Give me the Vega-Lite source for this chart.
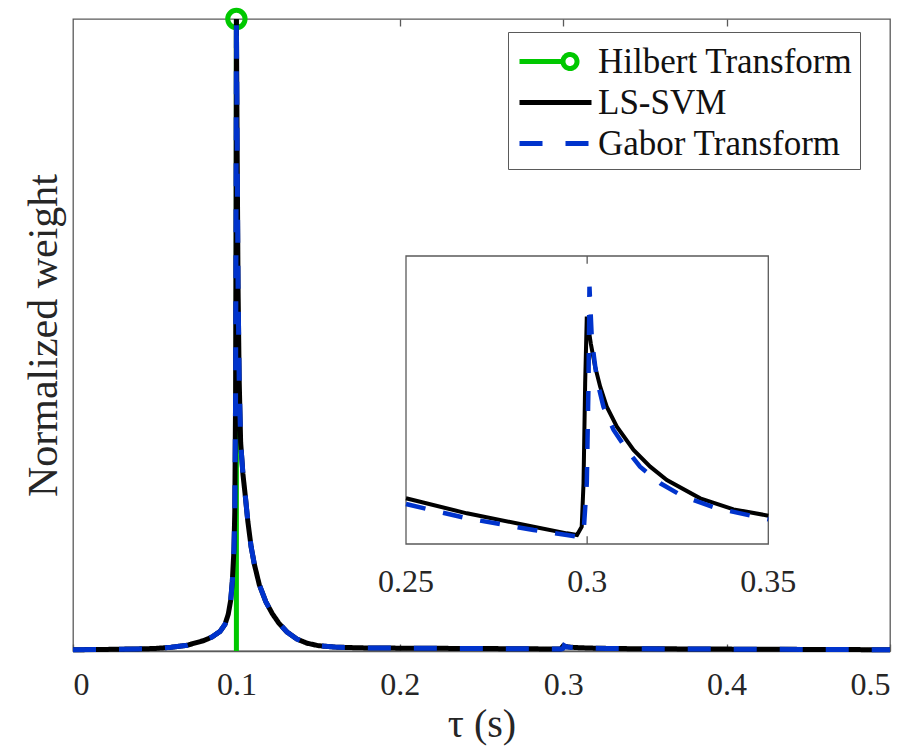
{
  "$schema": "https://vega.github.io/schema/vega-lite/v6.json",
  "width": 817,
  "height": 632,
  "autosize": {"type": "none"},
  "padding": {"left": 73, "top": 19, "right": 33, "bottom": 99},
  "background": "white",
  "config": {
    "view": {"stroke": "#5a5a5a", "strokeWidth": 1.3},
    "font": "serif",
    "axis": {"labelFont": "serif", "titleFont": "serif", "labelColor": "#262626", "titleColor": "#262626", "grid": false, "domainColor": "#5a5a5a", "tickColor": "#5a5a5a", "titleFontWeight": "normal", "domainWidth": 1.3, "tickWidth": 1.3}
  },
  "datasets": {
    "curves": [
      {"x": 0, "w": 0.002, "series": "LS-SVM"},
      {"x": 0.02, "w": 0.0025, "series": "LS-SVM"},
      {"x": 0.04, "w": 0.0033, "series": "LS-SVM"},
      {"x": 0.05, "w": 0.004, "series": "LS-SVM"},
      {"x": 0.06, "w": 0.0058, "series": "LS-SVM"},
      {"x": 0.07, "w": 0.0092, "series": "LS-SVM"},
      {"x": 0.08, "w": 0.0165, "series": "LS-SVM"},
      {"x": 0.085, "w": 0.022, "series": "LS-SVM"},
      {"x": 0.09, "w": 0.031, "series": "LS-SVM"},
      {"x": 0.093, "w": 0.042, "series": "LS-SVM"},
      {"x": 0.095, "w": 0.058, "series": "LS-SVM"},
      {"x": 0.0965, "w": 0.08, "series": "LS-SVM"},
      {"x": 0.0975, "w": 0.11, "series": "LS-SVM"},
      {"x": 0.0985, "w": 0.16, "series": "LS-SVM"},
      {"x": 0.099, "w": 0.22, "series": "LS-SVM"},
      {"x": 0.0995, "w": 0.4, "series": "LS-SVM"},
      {"x": 0.0998, "w": 0.7, "series": "LS-SVM"},
      {"x": 0.1, "w": 1.0, "series": "LS-SVM"},
      {"x": 0.1005, "w": 0.78, "series": "LS-SVM"},
      {"x": 0.101, "w": 0.58, "series": "LS-SVM"},
      {"x": 0.1017, "w": 0.43, "series": "LS-SVM"},
      {"x": 0.1026, "w": 0.33, "series": "LS-SVM"},
      {"x": 0.104, "w": 0.28, "series": "LS-SVM"},
      {"x": 0.1055, "w": 0.244, "series": "LS-SVM"},
      {"x": 0.107, "w": 0.205, "series": "LS-SVM"},
      {"x": 0.109, "w": 0.165, "series": "LS-SVM"},
      {"x": 0.111, "w": 0.137, "series": "LS-SVM"},
      {"x": 0.114, "w": 0.105, "series": "LS-SVM"},
      {"x": 0.118, "w": 0.078, "series": "LS-SVM"},
      {"x": 0.122, "w": 0.059, "series": "LS-SVM"},
      {"x": 0.126, "w": 0.044, "series": "LS-SVM"},
      {"x": 0.131, "w": 0.03, "series": "LS-SVM"},
      {"x": 0.137, "w": 0.019, "series": "LS-SVM"},
      {"x": 0.143, "w": 0.0125, "series": "LS-SVM"},
      {"x": 0.15, "w": 0.0085, "series": "LS-SVM"},
      {"x": 0.16, "w": 0.0062, "series": "LS-SVM"},
      {"x": 0.175, "w": 0.005, "series": "LS-SVM"},
      {"x": 0.2, "w": 0.0045, "series": "LS-SVM"},
      {"x": 0.225, "w": 0.0042, "series": "LS-SVM"},
      {"x": 0.25, "w": 0.003952, "series": "LS-SVM"},
      {"x": 0.2668, "w": 0.003639, "series": "LS-SVM"},
      {"x": 0.2852, "w": 0.003361, "series": "LS-SVM"},
      {"x": 0.2944, "w": 0.003222, "series": "LS-SVM"},
      {"x": 0.2972, "w": 0.003188, "series": "LS-SVM"},
      {"x": 0.2985, "w": 0.003361, "series": "LS-SVM"},
      {"x": 0.299, "w": 0.004265, "series": "LS-SVM"},
      {"x": 0.29945, "w": 0.006348, "series": "LS-SVM"},
      {"x": 0.2999, "w": 0.007736, "series": "LS-SVM"},
      {"x": 0.301, "w": 0.007181, "series": "LS-SVM"},
      {"x": 0.3022, "w": 0.006694, "series": "LS-SVM"},
      {"x": 0.3036, "w": 0.006277, "series": "LS-SVM"},
      {"x": 0.3054, "w": 0.005861, "series": "LS-SVM"},
      {"x": 0.3082, "w": 0.005444, "series": "LS-SVM"},
      {"x": 0.3128, "w": 0.004958, "series": "LS-SVM"},
      {"x": 0.3174, "w": 0.004611, "series": "LS-SVM"},
      {"x": 0.322, "w": 0.004333, "series": "LS-SVM"},
      {"x": 0.3312, "w": 0.003952, "series": "LS-SVM"},
      {"x": 0.3404, "w": 0.003722, "series": "LS-SVM"},
      {"x": 0.35, "w": 0.00359, "series": "LS-SVM"},
      {"x": 0.375, "w": 0.0033, "series": "LS-SVM"},
      {"x": 0.4, "w": 0.003, "series": "LS-SVM"},
      {"x": 0.45, "w": 0.0025, "series": "LS-SVM"},
      {"x": 0.5, "w": 0.002, "series": "LS-SVM"},

      {"x": 0, "w": 0.002, "series": "Gabor Transform"},
      {"x": 0.02, "w": 0.0025, "series": "Gabor Transform"},
      {"x": 0.04, "w": 0.0033, "series": "Gabor Transform"},
      {"x": 0.05, "w": 0.004, "series": "Gabor Transform"},
      {"x": 0.06, "w": 0.0058, "series": "Gabor Transform"},
      {"x": 0.07, "w": 0.0092, "series": "Gabor Transform"},
      {"x": 0.08, "w": 0.0165, "series": "Gabor Transform"},
      {"x": 0.085, "w": 0.022, "series": "Gabor Transform"},
      {"x": 0.09, "w": 0.031, "series": "Gabor Transform"},
      {"x": 0.093, "w": 0.042, "series": "Gabor Transform"},
      {"x": 0.095, "w": 0.058, "series": "Gabor Transform"},
      {"x": 0.0965, "w": 0.08, "series": "Gabor Transform"},
      {"x": 0.0975, "w": 0.11, "series": "Gabor Transform"},
      {"x": 0.0985, "w": 0.16, "series": "Gabor Transform"},
      {"x": 0.099, "w": 0.22, "series": "Gabor Transform"},
      {"x": 0.0995, "w": 0.4, "series": "Gabor Transform"},
      {"x": 0.0998, "w": 0.7, "series": "Gabor Transform"},
      {"x": 0.1, "w": 1.0, "series": "Gabor Transform"},
      {"x": 0.1005, "w": 0.78, "series": "Gabor Transform"},
      {"x": 0.101, "w": 0.58, "series": "Gabor Transform"},
      {"x": 0.1017, "w": 0.43, "series": "Gabor Transform"},
      {"x": 0.1026, "w": 0.33, "series": "Gabor Transform"},
      {"x": 0.104, "w": 0.28, "series": "Gabor Transform"},
      {"x": 0.1055, "w": 0.244, "series": "Gabor Transform"},
      {"x": 0.107, "w": 0.205, "series": "Gabor Transform"},
      {"x": 0.109, "w": 0.165, "series": "Gabor Transform"},
      {"x": 0.111, "w": 0.137, "series": "Gabor Transform"},
      {"x": 0.114, "w": 0.105, "series": "Gabor Transform"},
      {"x": 0.118, "w": 0.078, "series": "Gabor Transform"},
      {"x": 0.122, "w": 0.059, "series": "Gabor Transform"},
      {"x": 0.126, "w": 0.044, "series": "Gabor Transform"},
      {"x": 0.131, "w": 0.03, "series": "Gabor Transform"},
      {"x": 0.137, "w": 0.019, "series": "Gabor Transform"},
      {"x": 0.143, "w": 0.0125, "series": "Gabor Transform"},
      {"x": 0.15, "w": 0.0085, "series": "Gabor Transform"},
      {"x": 0.16, "w": 0.0062, "series": "Gabor Transform"},
      {"x": 0.175, "w": 0.005, "series": "Gabor Transform"},
      {"x": 0.2, "w": 0.0045, "series": "Gabor Transform"},
      {"x": 0.225, "w": 0.0042, "series": "Gabor Transform"},
      {"x": 0.25, "w": 0.003833, "series": "Gabor Transform"},
      {"x": 0.2668, "w": 0.003535, "series": "Gabor Transform"},
      {"x": 0.2852, "w": 0.003292, "series": "Gabor Transform"},
      {"x": 0.2944, "w": 0.003188, "series": "Gabor Transform"},
      {"x": 0.2972, "w": 0.003153, "series": "Gabor Transform"},
      {"x": 0.299, "w": 0.003222, "series": "Gabor Transform"},
      {"x": 0.2999, "w": 0.004265, "series": "Gabor Transform"},
      {"x": 0.30037, "w": 0.006348, "series": "Gabor Transform"},
      {"x": 0.30064, "w": 0.008361, "series": "Gabor Transform"},
      {"x": 0.3013, "w": 0.00725, "series": "Gabor Transform"},
      {"x": 0.3027, "w": 0.006417, "series": "Gabor Transform"},
      {"x": 0.3045, "w": 0.005861, "series": "Gabor Transform"},
      {"x": 0.3073, "w": 0.005375, "series": "Gabor Transform"},
      {"x": 0.311, "w": 0.004958, "series": "Gabor Transform"},
      {"x": 0.3146, "w": 0.004611, "series": "Gabor Transform"},
      {"x": 0.3202, "w": 0.004265, "series": "Gabor Transform"},
      {"x": 0.3266, "w": 0.003986, "series": "Gabor Transform"},
      {"x": 0.3358, "w": 0.003744, "series": "Gabor Transform"},
      {"x": 0.35, "w": 0.003514, "series": "Gabor Transform"},
      {"x": 0.375, "w": 0.0032, "series": "Gabor Transform"},
      {"x": 0.4, "w": 0.0029, "series": "Gabor Transform"},
      {"x": 0.45, "w": 0.0024, "series": "Gabor Transform"},
      {"x": 0.5, "w": 0.002, "series": "Gabor Transform"}
    ],
    "hilbert": [{"x": 0.1, "w": 1.0, "series": "Hilbert Transform"}],
    "insetFrame": [{"x": 0.25, "x2": 0.35, "w": 0.003, "w2": 0.009}],
    "insetTicks": [{"x": 0.3, "w": 0.003, "w2": 0.00316}, {"x": 0.3, "w": 0.009, "w2": 0.00884}],
    "insetLabels": [{"x": 0.25, "w": 0.003, "label": "0.25"}, {"x": 0.3, "w": 0.003, "label": "0.3"}, {"x": 0.35, "w": 0.003, "label": "0.35"}]
  },
  "layer": [
    {
      "encoding": {
        "x": {"field": "x", "type": "quantitative", "scale": {"domain": [0, 0.5], "nice": false, "zero": false}},
        "y": {"field": "w", "type": "quantitative", "scale": {"domain": [0, 1], "nice": false},
              "axis": {"title": "Normalized weight", "titleFont": "serif", "titleFontSize": 42, "labels": false, "ticks": false, "domain": false, "titlePadding": 8}}
      },
      "layer": [
        {
          "data": {"name": "hilbert"},
          "mark": {"type": "point", "filled": false, "color": "#00c800", "strokeWidth": 5, "size": 300, "opacity": 1},
          "encoding": {
            "x": {"field": "x", "type": "quantitative", "axis": {"orient": "top", "values": [0.1, 0.2, 0.3, 0.4], "labels": false, "tickSize": -7, "domain": false, "title": null}}
          }
        },
        {
          "data": {"name": "hilbert"},
          "mark": {"type": "rule", "strokeWidth": 5},
          "encoding": {
            "x": {"field": "x", "type": "quantitative", "axis": {"orient": "bottom", "values": [0, 0.1, 0.2, 0.3, 0.4, 0.5], "format": ".1~f", "labelFont": "serif", "labelFontSize": 32, "tickSize": -7, "labelPadding": 25, "title": "τ (s)", "titleFont": "serif", "titleFontSize": 40, "titlePadding": 4}},
            "y2": {"datum": 0},
            "color": {"field": "series", "type": "nominal",
              "scale": {"domain": ["Hilbert Transform", "LS-SVM", "Gabor Transform"], "range": ["#00c800", "#000000", "#0033cc"]},
              "legend": {"title": null, "orient": "none", "legendX": 435, "legendY": 13, "strokeColor": "#5a5a5a", "fillColor": "white", "padding": 7,
                "labelFont": "serif", "labelFontSize": 35, "labelLimit": 400, "labelColor": "#111111", "symbolType": "M-1.8,0H1.8", "symbolSize": 1600, "symbolStrokeWidth": 5,
                "symbolOffset": 18, "labelOffset": 20, "rowPadding": -3,
                "encode": {"symbols": {"update": {"shape": {"signal": "datum.value === 'Hilbert Transform' ? 'M-1.8,0H0.375M1.075,0A0.35,0.35,0,1,1,0.375,0A0.35,0.35,0,1,1,1.075,0' : 'M-1.8,0H1.8'"}}}}}},
            "strokeDash": {"field": "series", "type": "nominal",
              "scale": {"domain": ["Hilbert Transform", "LS-SVM", "Gabor Transform"], "range": [[1, 0], [1, 0], [23, 23]]},
              "legend": {"title": null, "orient": "none", "legendX": 435, "legendY": 13, "strokeColor": "#5a5a5a", "fillColor": "white", "padding": 7,
                "labelFont": "serif", "labelFontSize": 35, "labelLimit": 400, "labelColor": "#111111", "symbolType": "M-1.8,0H1.8", "symbolSize": 1600, "symbolStrokeWidth": 5,
                "symbolOffset": 18, "labelOffset": 20, "rowPadding": -3,
                "encode": {"symbols": {"update": {"shape": {"signal": "datum.value === 'Hilbert Transform' ? 'M-1.8,0H0.375M1.075,0A0.35,0.35,0,1,1,0.375,0A0.35,0.35,0,1,1,1.075,0' : 'M-1.8,0H1.8'"}}}}}}
          }
        },
        {
          "data": {"name": "curves"},
          "transform": [{"filter": "datum.series === 'LS-SVM'"}],
          "mark": {"type": "line", "strokeWidth": 5, "interpolate": "linear"},
          "encoding": {
            "x": {"field": "x", "type": "quantitative", "axis": null},
            "color": {"field": "series", "type": "nominal"},
            "strokeDash": {"field": "series", "type": "nominal"}
          }
        },
        {
          "data": {"name": "curves"},
          "transform": [{"filter": "datum.series === 'Gabor Transform'"}],
          "mark": {"type": "line", "strokeWidth": 5, "interpolate": "linear"},
          "encoding": {
            "x": {"field": "x", "type": "quantitative", "axis": null},
            "color": {"field": "series", "type": "nominal"},
            "strokeDash": {"field": "series", "type": "nominal"}
          }
        }
      ],
      "resolve": {"axis": {"x": "independent"}}
    },
    {
      "encoding": {
        "x": {"field": "x", "type": "quantitative", "scale": {"domain": [0.158087, 0.383591], "nice": false, "zero": false}, "axis": null},
        "y": {"field": "w", "type": "quantitative", "scale": {"domain": [0.0007708, 0.0139375], "nice": false, "zero": false}, "axis": null}
      },
      "layer": [
        {
          "data": {"name": "insetFrame"},
          "mark": {"type": "rect", "fill": "white", "stroke": "#5a5a5a", "strokeWidth": 1.3},
          "encoding": {"x2": {"field": "x2"}, "y2": {"field": "w2"}}
        },
        {
          "data": {"name": "curves"},
          "transform": [{"filter": "datum.series === 'LS-SVM' && datum.x >= 0.25 && datum.x <= 0.35"}],
          "mark": {"type": "line", "strokeWidth": 4, "color": "#000000"}
        },
        {
          "data": {"name": "curves"},
          "transform": [{"filter": "datum.series === 'Gabor Transform' && datum.x >= 0.25 && datum.x <= 0.35"}],
          "mark": {"type": "line", "strokeWidth": 4.5, "color": "#0033cc", "strokeDash": [20, 18]}
        },
        {
          "data": {"name": "insetTicks"},
          "mark": {"type": "rule", "color": "#5a5a5a", "strokeWidth": 1.3},
          "encoding": {"y2": {"field": "w2"}}
        },
        {
          "data": {"name": "insetLabels"},
          "mark": {"type": "text", "font": "serif", "fontSize": 32, "color": "#262626", "baseline": "alphabetic", "dy": 48},
          "encoding": {"text": {"field": "label"}}
        }
      ]
    }
  ],
  "resolve": {"scale": {"x": "independent", "y": "independent"}}
}
